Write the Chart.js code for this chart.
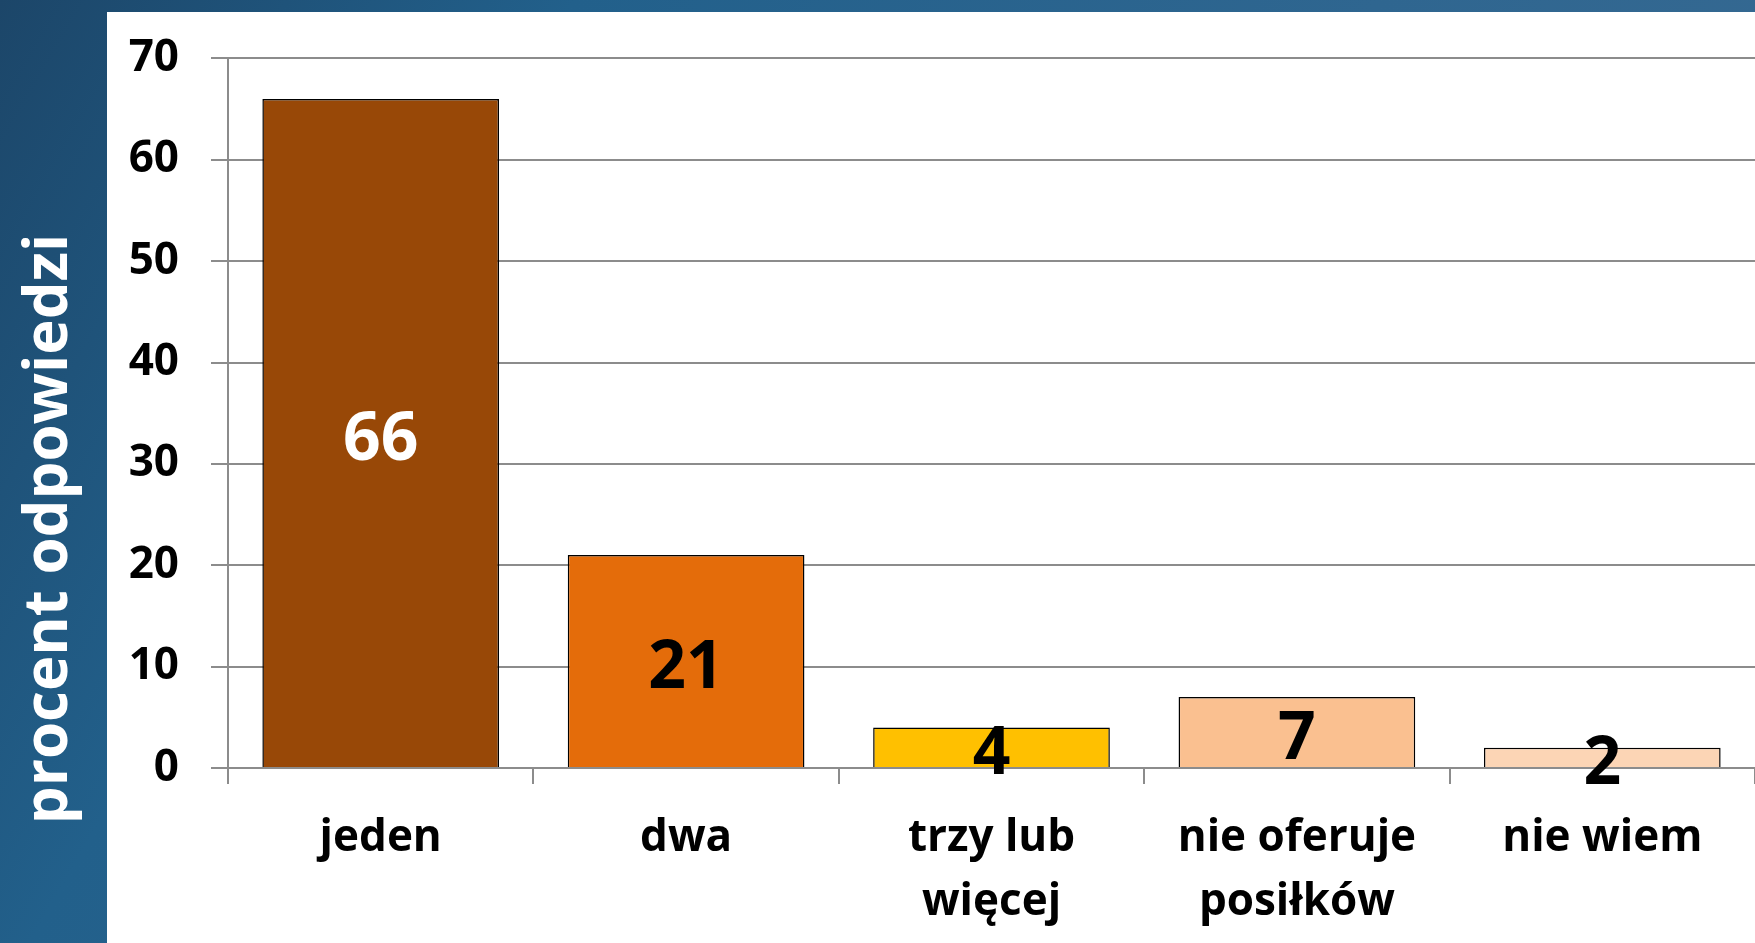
<!DOCTYPE html>
<html lang="pl">
<head>
<meta charset="UTF-8">
<title>procent odpowiedzi</title>
<script src="https://cdn.jsdelivr.net/npm/chart.js"></script>
<style>
  html, body { margin: 0; padding: 0; }
  body {
    width: 1755px; height: 943px; overflow: hidden; position: relative;
    background: linear-gradient(120deg, #1c4669 0%, #22608b 25%, #2f6690 60%, #3a6b93 100%);
  }
  #panel { position: absolute; left: 107px; top: 12px; right: 0; bottom: 0; background: #fff; }
  #chart { position: absolute; left: 0; top: 0; }
</style>
</head>
<body>
<div id="panel"></div>
<canvas id="chart" width="1755" height="943"></canvas>
<script>
// data
const categories = [['jeden'], ['dwa'], ['trzy lub', 'więcej'], ['nie oferuje', 'posiłków'], ['nie wiem']];
const values = [66, 21, 4, 7, 2];
const barColors = ['#984807', '#E46C0A', '#FFC000', '#FAC090', '#FCD5B5'];
const labelColors = ['#ffffff', '#000000', '#000000', '#000000', '#000000'];
const yTitle = 'procent odpowiedzi';

const FONT = '"Open Sans", Lato, sans-serif';

// value labels in the middle of each bar
const valueLabels = {
  id: 'valueLabels',
  afterDatasetsDraw(chart) {
    const ctx = chart.ctx;
    const meta = chart.getDatasetMeta(0);
    ctx.save();
    ctx.font = 'bold 66px ' + FONT;
    ctx.textAlign = 'center';
    ctx.textBaseline = 'middle';
    meta.data.forEach((bar, i) => {
      ctx.fillStyle = labelColors[i];
      ctx.fillText(String(values[i]), bar.x, (bar.y + bar.base) / 2 + 8);
    });
    ctx.restore();
  }
};

// rotated axis title sitting in the blue strip
const sideTitle = {
  id: 'sideTitle',
  afterDraw(chart) {
    const ctx = chart.ctx;
    ctx.save();
    ctx.translate(50, 529);
    ctx.rotate(-Math.PI / 2);
    ctx.font = 'bold 60px ' + FONT;
    ctx.fillStyle = '#ffffff';
    ctx.textAlign = 'center';
    ctx.textBaseline = 'middle';
    ctx.fillText(yTitle, 0, 0);
    ctx.restore();
  }
};

new Chart(document.getElementById('chart'), {
  type: 'bar',
  data: {
    labels: categories,
    datasets: [{
      data: values,
      backgroundColor: barColors,
      borderColor: '#000000',
      borderWidth: 1.5,
      borderSkipped: 'bottom',
      categoryPercentage: 1,
      barPercentage: 0.775
    }]
  },
  options: {
    responsive: false,
    animation: false,
    devicePixelRatio: 1,
    layout: { padding: { left: 107, top: 58, right: 0, bottom: 0 } },
    plugins: { legend: { display: false }, tooltip: { enabled: false } },
    scales: {
      x: {
        grid: { display: true, drawOnChartArea: false, offset: true, color: '#8c8c8c', lineWidth: 2, tickLength: 16 },
        border: { color: '#8c8c8c', width: 2 },
        ticks: { color: '#000', font: { family: FONT, size: 44, weight: 'bold', lineHeight: 1.45 }, padding: 23, maxRotation: 0, autoSkip: false },
        afterFit(scale) { scale.height = 175; }
      },
      y: {
        min: 0, max: 70,
        ticks: { stepSize: 10, color: '#000', font: { family: FONT, size: 44, weight: 'bold' }, padding: 32 },
        grid: { color: '#8c8c8c', lineWidth: 2, tickLength: 17 },
        border: { color: '#8c8c8c', width: 2 },
        afterFit(scale) { scale.width = 121; }
      }
    }
  },
  plugins: [valueLabels, sideTitle]
});
</script>
</body>
</html>
